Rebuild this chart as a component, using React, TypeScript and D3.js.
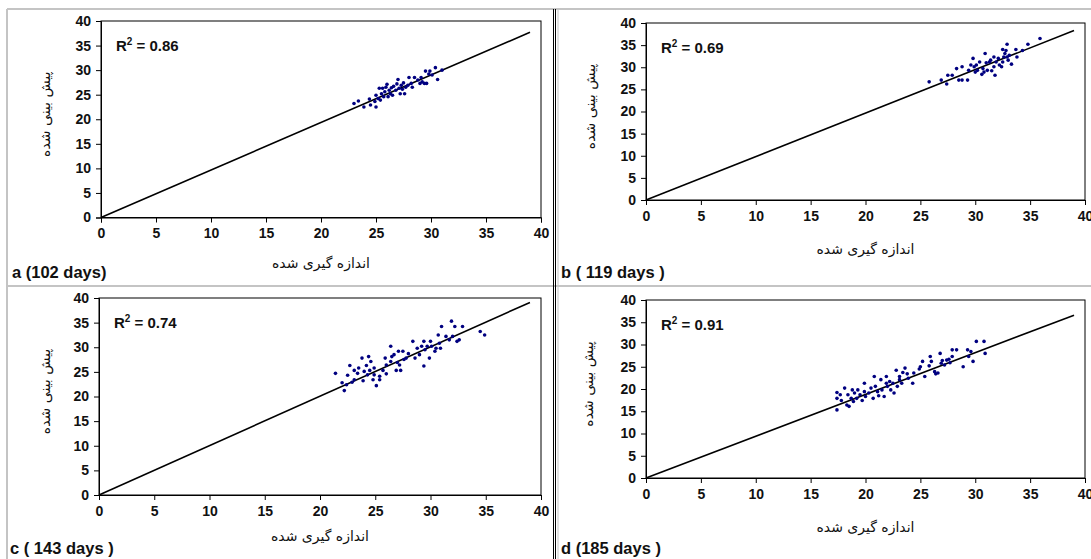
import { useRef, useEffect } from "react";
import * as d3 from "d3";

// axis ticks (same on both axes, all panels)
const tickValues = [0, 5, 10, 15, 20, 25, 30, 35, 40];

const aMeasured = [23.0, 23.4, 23.9, 24.4, 24.5, 24.9, 25.0, 25.0, 25.2, 25.3, 25.4, 25.5, 25.6, 25.7, 25.8, 25.9, 26.0, 26.1, 26.2, 26.3, 26.4, 26.5, 26.6, 26.8, 26.9, 27.0, 27.1, 27.2, 27.3, 27.4, 27.5, 27.6, 27.7, 27.9, 28.0, 28.2, 28.3, 28.5, 28.8, 29.0, 29.1, 29.2, 29.4, 29.5, 29.6, 29.8, 29.9, 30.1, 30.4, 30.6, 31.0];
const aPredicted = [23.2, 23.7, 22.5, 24.1, 22.9, 23.6, 24.9, 22.5, 24.2, 26.3, 23.9, 25.2, 26.3, 24.6, 25.6, 26.5, 27.1, 24.6, 25.9, 25.2, 26.4, 24.9, 26.7, 25.9, 27.2, 28.1, 26.3, 25.2, 26.9, 26.1, 27.4, 25.2, 26.5, 26.9, 28.5, 27.3, 26.5, 28.5, 28.0, 27.3, 28.5, 27.6, 27.3, 29.8, 27.3, 29.2, 29.8, 29.0, 30.5, 28.1, 30.0];

const bMeasured = [25.8, 26.9, 27.4, 27.5, 27.9, 28.3, 28.5, 28.8, 28.8, 29.3, 29.4, 29.6, 29.8, 29.9, 30.0, 30.1, 30.2, 30.4, 30.6, 30.7, 30.8, 30.9, 31.0, 31.1, 31.3, 31.4, 31.5, 31.7, 31.7, 31.8, 31.9, 32.1, 32.2, 32.4, 32.5, 32.5, 32.6, 32.7, 32.8, 32.9, 32.9, 33.0, 33.1, 33.3, 33.7, 33.8, 34.3, 34.8, 35.9];
const bPredicted = [26.7, 27.1, 26.2, 28.2, 28.2, 29.7, 27.1, 27.1, 30.1, 27.1, 29.3, 30.5, 32.0, 30.1, 28.9, 30.5, 29.3, 31.2, 28.4, 29.7, 28.9, 33.1, 31.0, 29.3, 31.2, 31.6, 29.2, 32.3, 30.1, 28.2, 31.2, 32.0, 30.5, 30.1, 31.2, 34.0, 32.3, 33.1, 33.8, 35.2, 32.3, 31.6, 32.7, 30.7, 34.0, 32.3, 33.8, 35.2, 36.5];

const cMeasured = [21.4, 22.0, 22.2, 22.4, 22.5, 22.7, 22.9, 23.1, 23.1, 23.4, 23.5, 23.8, 23.9, 24.0, 24.2, 24.3, 24.4, 24.5, 24.6, 24.8, 24.9, 24.9, 25.1, 25.4, 25.4, 25.7, 25.9, 26.0, 26.0, 26.4, 26.4, 26.5, 26.7, 26.9, 27.0, 27.1, 27.2, 27.3, 27.5, 27.6, 27.8, 28.0, 28.4, 28.6, 28.8, 29.0, 29.2, 29.4, 29.4, 29.5, 29.7, 29.9, 30.0, 30.1, 30.4, 30.5, 30.7, 30.8, 30.9, 31.0, 31.4, 31.7, 31.9, 32.0, 32.2, 32.4, 32.6, 32.9, 34.5, 34.9];
const cPredicted = [24.7, 22.8, 21.2, 22.4, 24.3, 26.3, 22.9, 25.3, 23.4, 24.7, 25.8, 27.8, 23.2, 25.1, 26.3, 24.4, 28.1, 25.3, 27.1, 23.4, 25.8, 24.4, 22.2, 24.1, 23.4, 25.3, 27.8, 26.4, 24.6, 30.2, 27.1, 28.1, 28.5, 25.3, 26.9, 29.2, 26.4, 25.3, 29.2, 27.5, 27.8, 28.7, 31.2, 27.8, 29.8, 28.5, 30.2, 31.2, 26.2, 29.5, 30.2, 27.8, 31.2, 30.2, 29.2, 29.8, 32.5, 30.8, 29.8, 34.2, 32.2, 31.5, 35.3, 32.2, 34.2, 31.2, 31.5, 34.2, 33.2, 32.5];

const dMeasured = [17.4, 17.4, 17.4, 17.7, 17.8, 18.1, 18.3, 18.4, 18.5, 18.7, 18.8, 18.9, 19.0, 19.2, 19.3, 19.5, 19.7, 19.9, 19.9, 20.0, 20.3, 20.5, 20.7, 20.8, 20.9, 21.1, 21.2, 21.4, 21.5, 21.7, 21.9, 21.9, 22.0, 22.2, 22.3, 22.5, 22.6, 22.8, 22.9, 23.1, 23.1, 23.3, 23.4, 23.6, 23.8, 23.9, 24.3, 24.4, 24.9, 25.0, 25.2, 25.4, 25.8, 25.9, 26.0, 26.3, 26.4, 26.6, 26.8, 26.9, 27.0, 27.2, 27.4, 27.6, 27.7, 27.9, 27.9, 28.3, 28.9, 29.3, 29.4, 29.6, 29.8, 30.1, 30.8, 30.9];
const dPredicted = [19.2, 17.9, 15.3, 18.7, 17.4, 20.2, 16.4, 18.7, 16.1, 17.9, 19.8, 17.2, 19.1, 17.9, 19.8, 18.7, 17.4, 21.3, 19.4, 18.3, 19.1, 20.2, 17.9, 22.8, 20.6, 19.4, 18.5, 22.1, 19.8, 18.3, 21.3, 22.8, 20.6, 21.7, 19.8, 21.3, 19.1, 24.2, 20.6, 22.1, 22.8, 21.3, 23.7, 24.7, 23.4, 22.4, 21.3, 23.6, 24.5, 25.0, 26.2, 22.8, 25.2, 27.3, 26.2, 23.9, 23.4, 23.6, 28.0, 25.8, 26.4, 25.4, 26.5, 26.7, 25.9, 28.8, 27.3, 28.8, 25.0, 28.8, 27.3, 28.4, 26.2, 30.7, 30.7, 28.0];

// fitted lines: start and end points
const fitX = [0, 39];
const aFit = [0, 37.7];
const bFit = [0, 38.3];
const cFit = [0, 39.1];
const dFit = [0, 36.6];

const r2Values = ["0.86", "0.69", "0.74", "0.91"];
const panelLabels = ["a (102 days)", "b ( 119 days )", "c ( 143 days )", "d (185 days )"];
const xTitle = "اندازه گیری شده";
const yTitle = "پیش بینی شده";

const W = 1091;
const H = 559;

// plot areas in page pixels
const panels = [
  { mx: aMeasured, my: aPredicted, fit: aFit, box: { l: 101, r: 541, t: 21, b: 217.5 }, labelX: 12, labelY: 278, xTitleY: 268, yTitleX: 50 },
  { mx: bMeasured, my: bPredicted, fit: bFit, box: { l: 646, r: 1085, t: 23, b: 200 }, labelX: 561, labelY: 278, xTitleY: 254, yTitleX: 595 },
  { mx: cMeasured, my: cPredicted, fit: cFit, box: { l: 99, r: 541, t: 298, b: 495 }, labelX: 10, labelY: 554, xTitleY: 541, yTitleX: 50 },
  { mx: dMeasured, my: dPredicted, fit: dFit, box: { l: 646, r: 1085, t: 300, b: 478 }, labelX: 561, labelY: 554, xTitleY: 532, yTitleX: 593 },
];

export default function App() {
  const svgRef = useRef<SVGSVGElement>(null);

  useEffect(() => {
    const svg = d3.select(svgRef.current);
    svg.selectAll("*").remove();

    svg.append("rect").attr("width", W).attr("height", H).attr("fill", "#fff");

    // outer frame and separators
    svg.append("line").attr("x1", 7).attr("x2", W).attr("y1", 9).attr("y2", 9).attr("stroke", "#c4c4c4").attr("stroke-width", 2);
    svg.append("line").attr("x1", 7).attr("x2", 7).attr("y1", 9).attr("y2", H).attr("stroke", "#c4c4c4").attr("stroke-width", 2);
    svg.append("line").attr("x1", 7).attr("x2", W).attr("y1", 286).attr("y2", 286).attr("stroke", "#c4c4c4").attr("stroke-width", 2);
    svg.append("line").attr("x1", 553.5).attr("x2", 553.5).attr("y1", 9).attr("y2", H).attr("stroke", "#000").attr("stroke-width", 1);
    svg.append("line").attr("x1", 555.5).attr("x2", 555.5).attr("y1", 9).attr("y2", H).attr("stroke", "#000").attr("stroke-width", 1);
    svg.append("line").attr("x1", 558).attr("x2", 558).attr("y1", 9).attr("y2", H).attr("stroke", "#c4c4c4").attr("stroke-width", 1);

    panels.forEach((p, i) => {
      const x = d3.scaleLinear().domain([0, 40]).range([p.box.l, p.box.r]);
      const y = d3.scaleLinear().domain([0, 40]).range([p.box.b, p.box.t]);
      const g = svg.append("g");

      // plot frame
      g.append("rect")
        .attr("x", p.box.l)
        .attr("y", p.box.t)
        .attr("width", p.box.r - p.box.l)
        .attr("height", p.box.b - p.box.t)
        .attr("fill", "none")
        .attr("stroke", "#000")
        .attr("stroke-width", 1);

      // axes
      const xAxis = g.append("g")
        .attr("transform", `translate(0,${p.box.b})`)
        .call(d3.axisBottom(x).tickValues(tickValues).tickSize(5).tickPadding(6));
      const yAxis = g.append("g")
        .attr("transform", `translate(${p.box.l},0)`)
        .call(d3.axisLeft(y).tickValues(tickValues).tickSize(5).tickPadding(5));
      [xAxis, yAxis].forEach((ax) => {
        ax.select(".domain").attr("stroke", "#000");
        ax.selectAll("line").attr("stroke", "#000");
        ax.selectAll("text")
          .attr("fill", "#111")
          .attr("font-size", "14px")
          .attr("font-weight", "bold")
          .attr("font-family", "'Liberation Sans', Arial, sans-serif");
      });

      // fitted line
      const line = d3.line<number>()
        .x((_, j) => x(fitX[j]))
        .y((d) => y(d));
      g.append("path")
        .datum(p.fit)
        .attr("d", line)
        .attr("fill", "none")
        .attr("stroke", "#000")
        .attr("stroke-width", 1.6);

      // points
      g.selectAll(".pt")
        .data(p.mx)
        .enter()
        .append("circle")
        .attr("cx", (d) => x(d))
        .attr("cy", (_, j) => y(p.my[j]))
        .attr("r", 1.8)
        .attr("fill", "#000080");

      // R² label
      const r2 = g.append("text")
        .attr("x", p.box.l + 15)
        .attr("y", p.box.t + 30)
        .attr("fill", "#111")
        .attr("font-size", "15px")
        .attr("font-weight", "bold")
        .attr("font-family", "'Liberation Sans', Arial, sans-serif");
      r2.append("tspan").text("R");
      r2.append("tspan").attr("dy", -6).attr("font-size", "10px").text("2");
      r2.append("tspan").attr("dy", 6).text(` = ${r2Values[i]}`);

      // axis titles
      g.append("text")
        .attr("x", (p.box.l + p.box.r) / 2)
        .attr("y", p.xTitleY)
        .attr("text-anchor", "middle")
        .attr("fill", "#111")
        .attr("font-size", "14px")
        .attr("font-family", "'DejaVu Sans', sans-serif")
        .text(xTitle);
      g.append("text")
        .attr("transform", `translate(${p.yTitleX},${(p.box.t + p.box.b) / 2 - 5}) rotate(-90)`)
        .attr("text-anchor", "middle")
        .attr("fill", "#111")
        .attr("font-size", "14px")
        .attr("font-family", "'DejaVu Sans', sans-serif")
        .text(yTitle);

      // panel label
      g.append("text")
        .attr("x", p.labelX)
        .attr("y", p.labelY)
        .attr("fill", "#111")
        .attr("font-size", "16.5px")
        .attr("font-weight", "bold")
        .attr("font-family", "'Liberation Sans', Arial, sans-serif")
        .text(panelLabels[i]);
    });
  }, []);

  return (
    <div style={{ position: "fixed", left: 0, top: 0 }}>
      <svg ref={svgRef} width={W} height={H} style={{ display: "block" }} />
    </div>
  );
}
